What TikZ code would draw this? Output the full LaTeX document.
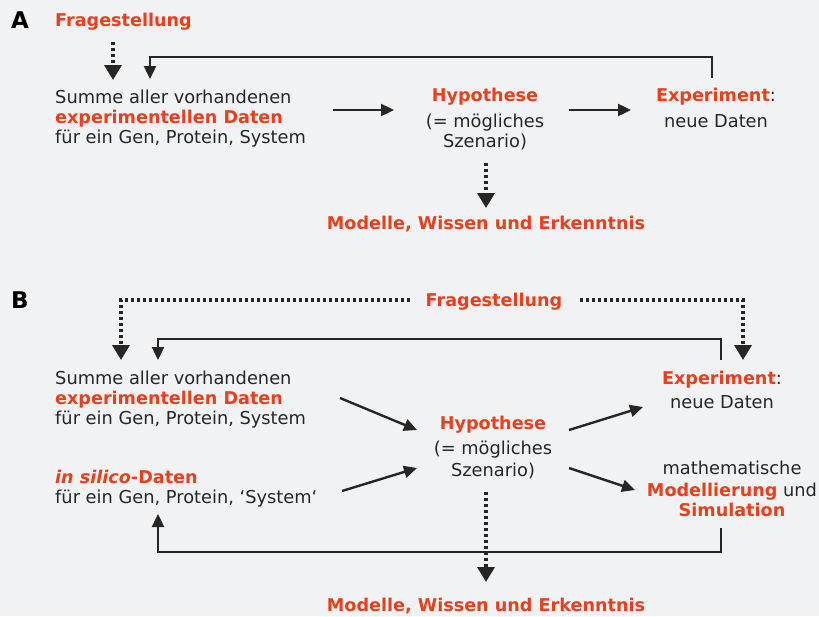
\documentclass[tikz,border=0pt]{standalone}
\usepackage{fontspec}
\setmainfont{DejaVu Sans}
\usetikzlibrary{arrows.meta}
\definecolor{bg}{HTML}{F1F2F4}
\definecolor{hl}{HTML}{E8401C}
\definecolor{tx}{HTML}{262626}
\begin{document}
\begin{tikzpicture}[x=1pt,y=-1pt,
  txt/.style={text=tx,font=\fontsize{17.8}{20}\selectfont,inner sep=0pt,anchor=base},
  txtl/.style={txt,anchor=base west},
  hi/.style={text=hl,font=\fontsize{17.6}{20}\selectfont\bfseries,inner sep=0pt,anchor=base},
  hil/.style={hi,anchor=base west},
  panel/.style={text=black,font=\fontsize{23}{26}\selectfont\bfseries,inner sep=0pt,anchor=base},
  solidarrow/.style={draw=tx,line width=2.4pt,-{Triangle[width=12pt,length=13pt]}},
  dotarrow/.style={draw=tx,line width=3.6pt,dash pattern=on 3pt off 3pt,-{Triangle[width=17pt,length=15pt]}}]
\fill[bg] (0,0) rectangle (819,616);
\useasboundingbox (0,0) rectangle (819,616);

% ---------- Panel A ----------
\node[panel] (labA) at (20,28) {A};
\node[hil] (fragA) at (55,26) {Fragestellung};
\node[txtl] (sumA1) at (55,103) {Summe aller vorhandenen};
\node[hil] (sumA2) at (55,123) {experimentellen Daten};
\node[txtl] (sumA3) at (55,143) {für ein Gen, Protein, System};
\node[hi] (hypA1) at (485,101) {Hypothese};
\node[txt] (hypA2) at (485,127) {(= mögliches};
\node[txt] (hypA3) at (485,147) {Szenario)};
\node[txt] (expA1) at (716,101) {\textcolor{hl}{\fontsize{17.6}{20}\selectfont\bfseries Experiment}:};
\node[txt] (expA2) at (716,127) {neue Daten};
\node[hi] (modA) at (486,229) {Modelle, Wissen und Erkenntnis};

\coordinate (a1s) at (113,42);  \coordinate (a1e) at (113,80);
\coordinate (a2s) at (712,78);  \coordinate (a2m) at (712,57);
\coordinate (a2n) at (150,57);  \coordinate (a2e) at (150,79);
\coordinate (a3s) at (333,110); \coordinate (a3e) at (394,110);
\coordinate (a4s) at (569,110); \coordinate (a4e) at (631,110);
\coordinate (a5s) at (486,163); \coordinate (a5e) at (486,208);

\draw[dotarrow] (a1s) -- (a1e);
\draw[solidarrow] (a2s) -- (a2m) -- (a2n) -- (a2e);
\draw[solidarrow] (a3s) -- (a3e);
\draw[solidarrow] (a4s) -- (a4e);
\draw[dotarrow] (a5s) -- (a5e);

% ---------- Panel B ----------
\node[panel] (labB) at (20,308) {B};
\node[hi] (fragB) at (494,306) {Fragestellung};
\node[txtl] (sumB1) at (55,384) {Summe aller vorhandenen};
\node[hil] (sumB2) at (55,404) {experimentellen Daten};
\node[txtl] (sumB3) at (55,424) {für ein Gen, Protein, System};
\node[hil] (silB1) at (55,483) {\itshape in silico\upshape -Daten};
\node[txtl] (silB2) at (55,503) {für ein Gen, Protein, ‘System‘};
\node[hi] (hypB1) at (493,429) {Hypothese};
\node[txt] (hypB2) at (493,454) {(= mögliches};
\node[txt] (hypB3) at (493,476) {Szenario)};
\node[txt] (expB1) at (722,384) {\textcolor{hl}{\fontsize{17.6}{20}\selectfont\bfseries Experiment}:};
\node[txt] (expB2) at (722,408) {neue Daten};
\node[txt] (matB1) at (732,474) {mathematische};
\node[txt] (matB2) at (732,496) {\textcolor{hl}{\fontsize{17.6}{20}\selectfont\bfseries Modellierung} und};
\node[hi] (matB3) at (732,516) {Simulation};
\node[hi] (modB) at (486,611) {Modelle, Wissen und Erkenntnis};

\coordinate (b1s) at (410,300); \coordinate (b1m) at (121,300); \coordinate (b1e) at (121,360);
\coordinate (b2s) at (580,300); \coordinate (b2m) at (743,300); \coordinate (b2e) at (743,360);
\coordinate (b3s) at (721,360); \coordinate (b3m) at (721,339);
\coordinate (b3n) at (158,339); \coordinate (b3e) at (158,360);
\coordinate (b4s) at (340,398); \coordinate (b4e) at (417,430);
\coordinate (b5s) at (342,491); \coordinate (b5e) at (417,468);
\coordinate (b6s) at (569,430); \coordinate (b6e) at (643,407);
\coordinate (b7s) at (569,468); \coordinate (b7e) at (635,490);
\coordinate (b8s) at (721,528); \coordinate (b8m) at (721,552);
\coordinate (b8n) at (158,552); \coordinate (b8e) at (158,514);
\coordinate (b9s) at (486,492); \coordinate (b9e) at (486,582);

\draw[dotarrow] (b1s) -- (b1m) -- (b1e);
\draw[dotarrow] (b2s) -- (b2m) -- (b2e);
\draw[solidarrow] (b3s) -- (b3m) -- (b3n) -- (b3e);
\draw[solidarrow] (b4s) -- (b4e);
\draw[solidarrow] (b5s) -- (b5e);
\draw[solidarrow] (b6s) -- (b6e);
\draw[solidarrow] (b7s) -- (b7e);
\draw[solidarrow] (b8s) -- (b8m) -- (b8n) -- (b8e);
\draw[dotarrow] (b9s) -- (b9e);
\end{tikzpicture}
\end{document}
